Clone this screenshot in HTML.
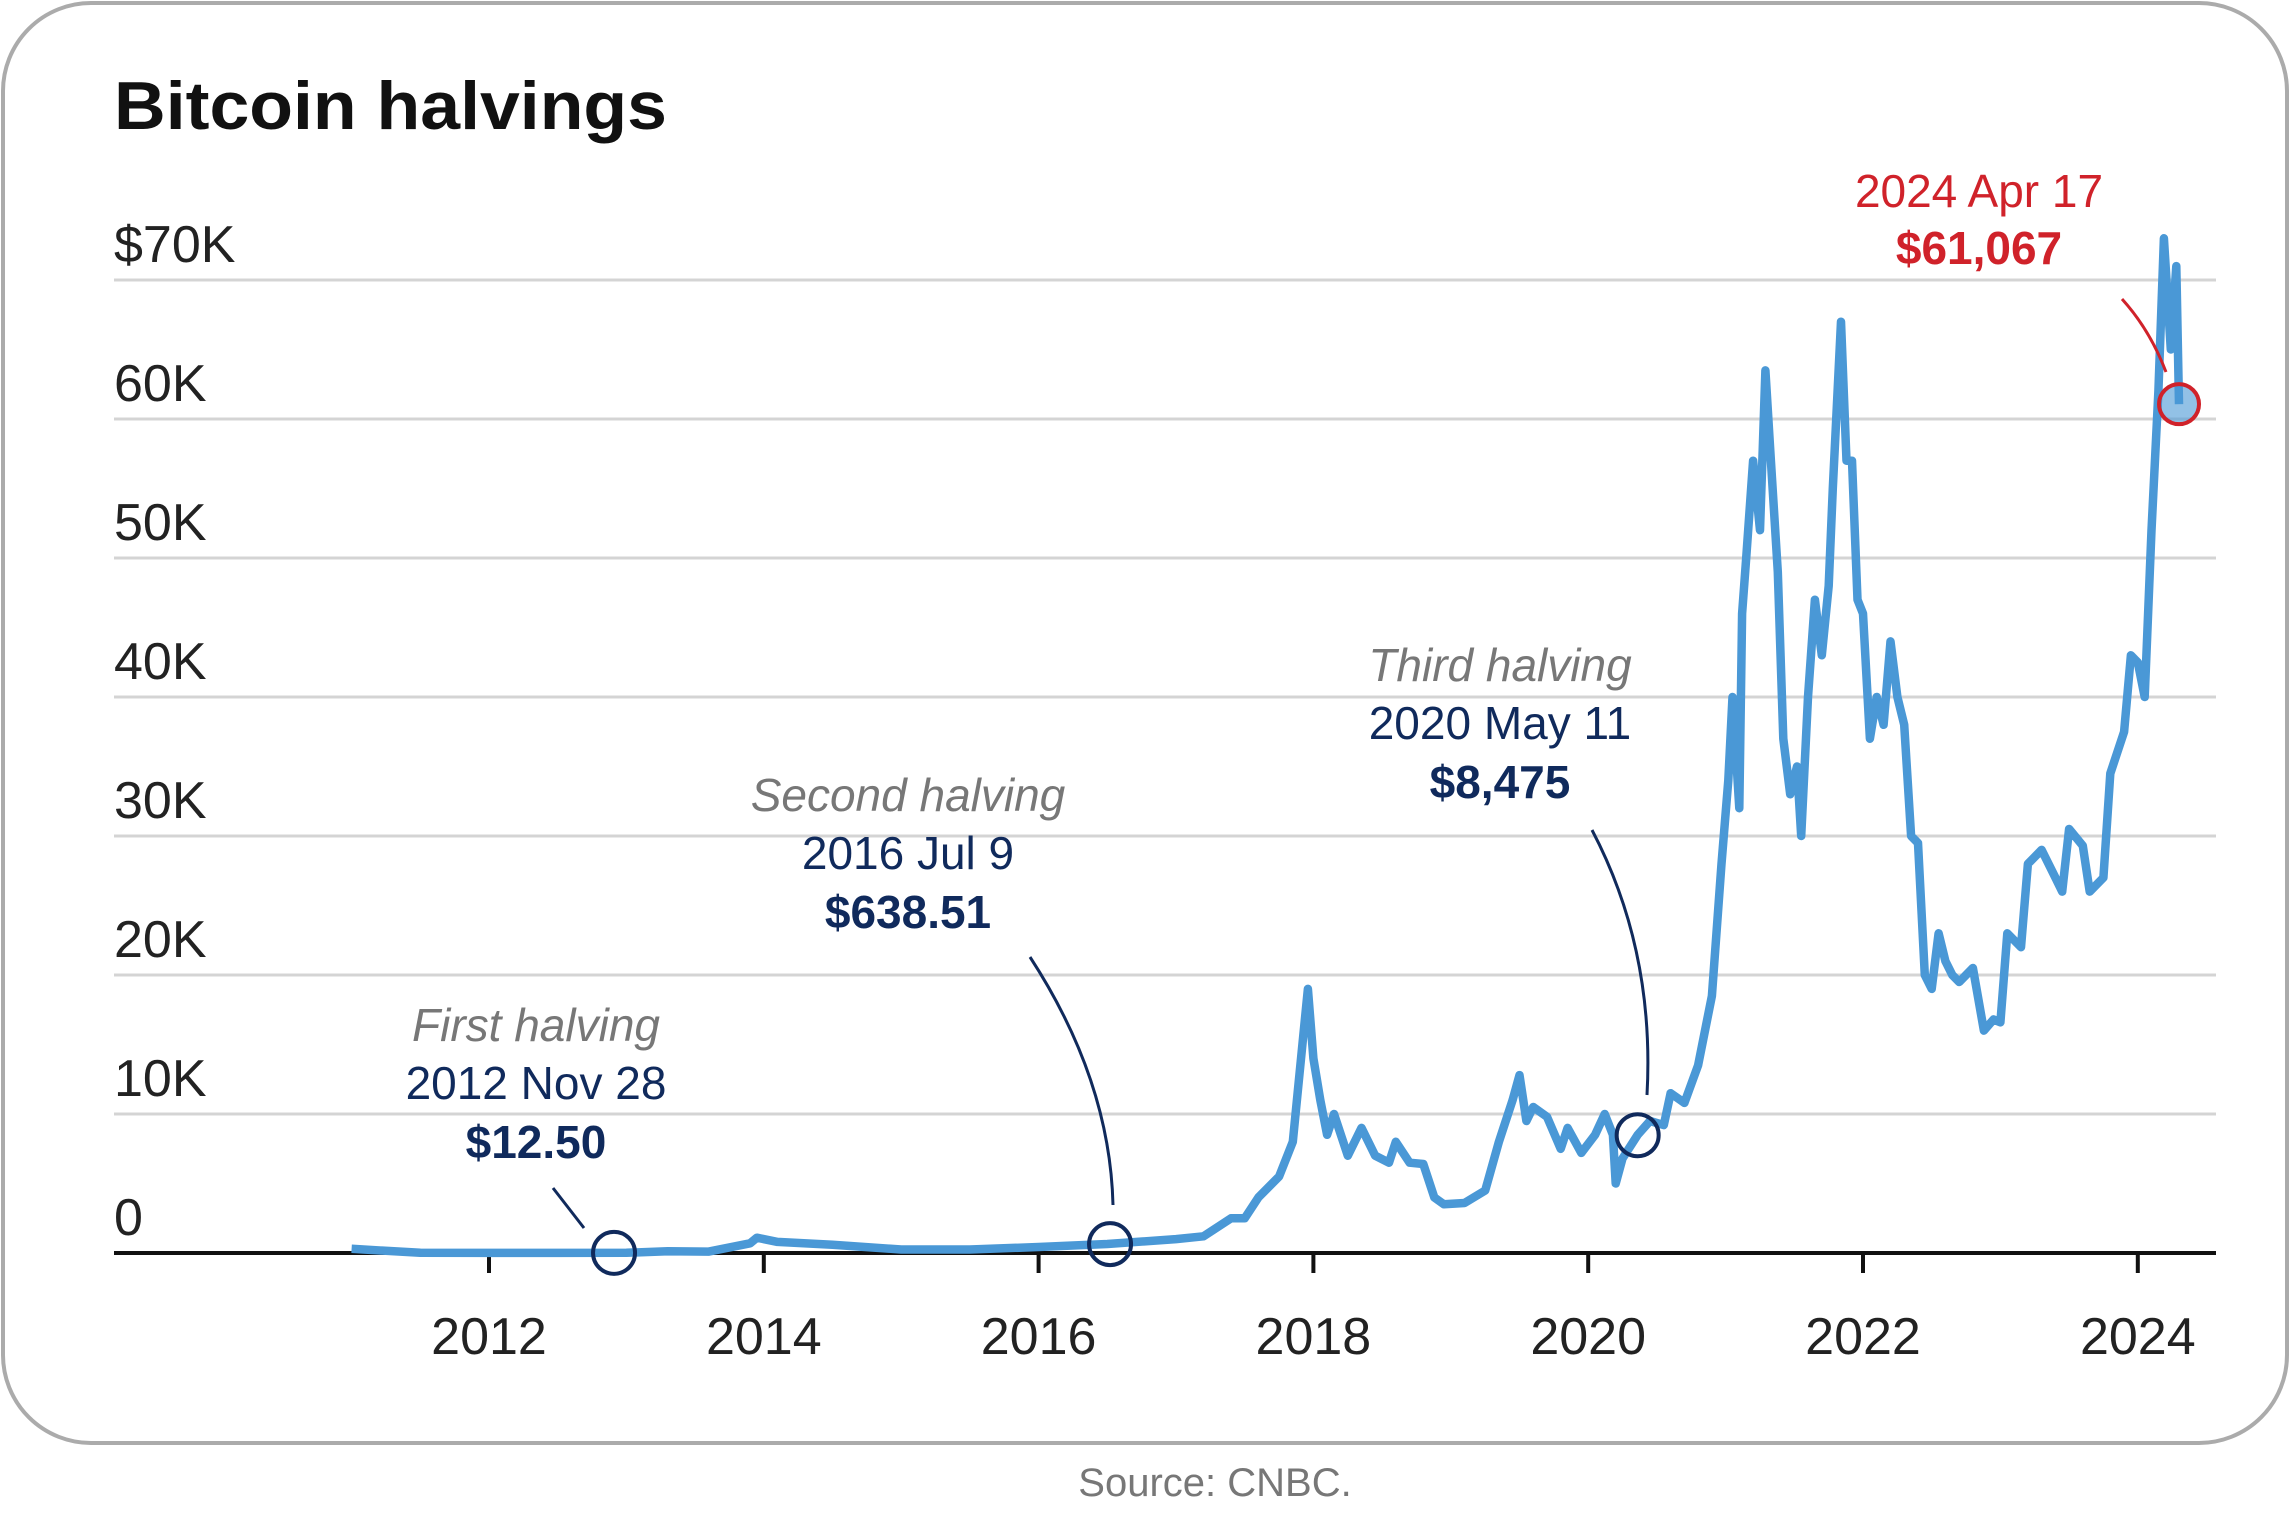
<!DOCTYPE html>
<html><head><meta charset="utf-8"><style>
html,body{margin:0;padding:0;background:#fff;}
svg{display:block;font-family:"Liberation Sans",sans-serif;}
</style></head><body>
<svg id="chart" width="2290" height="1537" viewBox="0 0 2290 1537">
<rect x="3" y="3" width="2284" height="1440" rx="88" fill="#fff" stroke="#ababab" stroke-width="4"/>
<text x="114" y="129" font-size="68" font-weight="bold" fill="#111" textLength="553" lengthAdjust="spacingAndGlyphs">Bitcoin halvings</text>
<g id="grid"></g>
<g id="xaxis"></g>
<path id="line" fill="none" stroke="#4a98d6" stroke-width="8.5" stroke-linejoin="round"/>
<g id="ann"></g>
<text x="1215" y="1496" font-size="40" fill="#777" text-anchor="middle">Source: CNBC.</text>
</svg>
<script>
const yTicks=[0,10000,20000,30000,40000,50000,60000,70000];
const yTickLabels=["0","10K","20K","30K","40K","50K","60K","$70K"];
const xTicks=[2012,2014,2016,2018,2020,2022,2024];
const dates=[2011.0,2011.5,2012.0,2012.5,2013.0,2013.3,2013.6,2013.9,2013.95,2014.1,2014.5,2015.0,2015.5,2016.0,2016.5,2017.0,2017.2,2017.4,2017.5,2017.6,2017.75,2017.85,2017.92,2017.96,2018.0,2018.05,2018.1,2018.15,2018.25,2018.35,2018.45,2018.55,2018.6,2018.7,2018.8,2018.88,2018.95,2019.1,2019.25,2019.35,2019.45,2019.5,2019.55,2019.6,2019.7,2019.8,2019.85,2019.95,2020.05,2020.12,2020.18,2020.2,2020.25,2020.36,2020.45,2020.55,2020.6,2020.7,2020.8,2020.9,2020.97,2021.02,2021.05,2021.1,2021.12,2021.15,2021.2,2021.25,2021.29,2021.33,2021.38,2021.42,2021.47,2021.52,2021.55,2021.6,2021.65,2021.7,2021.75,2021.78,2021.84,2021.88,2021.92,2021.96,2022.0,2022.05,2022.1,2022.15,2022.2,2022.25,2022.3,2022.35,2022.4,2022.45,2022.5,2022.55,2022.6,2022.65,2022.7,2022.8,2022.88,2022.95,2023.0,2023.05,2023.15,2023.2,2023.3,2023.4,2023.45,2023.5,2023.6,2023.65,2023.75,2023.8,2023.9,2023.95,2024.0,2024.05,2024.1,2024.15,2024.19,2024.24,2024.28,2024.3];
const prices=[300,15,5,8,13,130,100,700,1100,800,600,250,250,430,650,1000,1200,2500,2500,4000,5500,8000,15000,19000,14000,11000,8500,10000,7000,9000,7000,6500,8000,6500,6400,4000,3500,3600,4500,8000,11000,12800,9500,10500,9800,7500,9000,7200,8500,10000,8500,5000,6800,8500,9500,9200,11500,10800,13500,18500,28000,34000,40000,32000,46000,50000,57000,52000,63500,57000,49000,37000,33000,35000,30000,40000,47000,43000,48000,55000,67000,57000,57000,47000,46000,37000,40000,38000,44000,40000,38000,30000,29500,20000,19000,23000,21000,20000,19500,20500,16000,16800,16600,23000,22000,28000,29000,27000,26000,30500,29300,26000,27000,34500,37500,43000,42500,40000,52000,62000,73000,65000,71000,61067];
const halvings=[
 {name:"First halving",date:"2012 Nov 28",price:"$12.50",x:2012.91,v:13,tx:536,ty:1041},
 {name:"Second halving",date:"2016 Jul 9",price:"$638.51",x:2016.52,v:638.51,tx:908,ty:811},
 {name:"Third halving",date:"2020 May 11",price:"$8,475",x:2020.36,v:8475,tx:1500,ty:681}
];
const X0=114,X1=2216,Y0=1253,Y70=280;
function sx(t){return 489+(t-2012)*137.4;}
function sy(v){return Y0-(v/70000)*(Y0-Y70);}
const NS="http://www.w3.org/2000/svg";
function mk(tag,attrs,parent,text){const e=document.createElementNS(NS,tag);for(const k in attrs)e.setAttribute(k,attrs[k]);if(text!==undefined)e.textContent=text;parent.appendChild(e);return e;}
const grid=document.getElementById('grid');
yTicks.forEach((v,i)=>{
 if(v>0){const l=mk('line',{x1:X0,x2:X1,y1:sy(v),y2:sy(v),stroke:'#d4d4d4','stroke-width':3},grid);
 
 }
 const t=mk('text',{x:114,y:sy(v)-18,'font-size':52,fill:'#222'},grid,yTickLabels[i]);
 
 
});
const xa=document.getElementById('xaxis');
const base=mk('line',{x1:X0,x2:X1,y1:Y0,y2:Y0,stroke:'#111','stroke-width':4},xa);


xTicks.forEach(y=>{
 const tk=mk('line',{x1:sx(y),x2:sx(y),y1:Y0,y2:Y0+20,stroke:'#111','stroke-width':4},xa);
 
 
 const t=mk('text',{x:sx(y),y:1354,'font-size':52,fill:'#222','text-anchor':'middle'},xa,String(y));
 
 
});
let d='';dates.forEach((t,i)=>{d+=(i?'L':'M')+sx(t).toFixed(1)+','+sy(prices[i]).toFixed(1);});
document.getElementById('line').setAttribute('d',d);
const ann=document.getElementById('ann');
const navy='#102a5c';
halvings.forEach((h,i)=>{
 const t1=mk('text',{x:h.tx,y:h.ty,'font-size':46,'font-style':'italic',fill:'#777','text-anchor':'middle'},ann,h.name);
 
 
 const t2=mk('text',{x:h.tx,y:h.ty+58,'font-size':46,fill:navy,'text-anchor':'middle'},ann,h.date);
 
 
 const t3=mk('text',{x:h.tx,y:h.ty+117,'font-size':46,'font-weight':'bold',fill:navy,'text-anchor':'middle'},ann,h.price);
 
 
 const cx=sx(h.x),cy=Math.min(sy(h.v),Y0);
 const c=mk('circle',{cx:cx,cy:cy,r:21,fill:'none',stroke:navy,'stroke-width':4},ann);
 
 
 let p;
 if(i===0){p=`M553,1188 L584,1228`;}
 else if(i===1){p=`M1030,957 Q1110,1080 1113,1205`;}
 else{p=`M1592,830 Q1655,950 1647,1095`;}
 const ln=mk('path',{d:p,fill:'none',stroke:navy,'stroke-width':3},ann);
 
 
});
const red='#d0222a';
const r1=mk('text',{x:1979,y:207,'font-size':46,fill:red,'text-anchor':'middle'},ann,'2024 Apr 17');


const r2=mk('text',{x:1979,y:264,'font-size':46,'font-weight':'bold',fill:red,'text-anchor':'middle'},ann,'$61,067');


const rl=mk('path',{d:'M2122,299 Q2150,330 2166,372',fill:'none',stroke:red,'stroke-width':3},ann);


const rc=mk('circle',{cx:sx(dates[dates.length-1]),cy:sy(prices[prices.length-1]),r:20,fill:'rgba(74,152,214,0.6)',stroke:red,'stroke-width':4},ann);


</script>
</body></html>
